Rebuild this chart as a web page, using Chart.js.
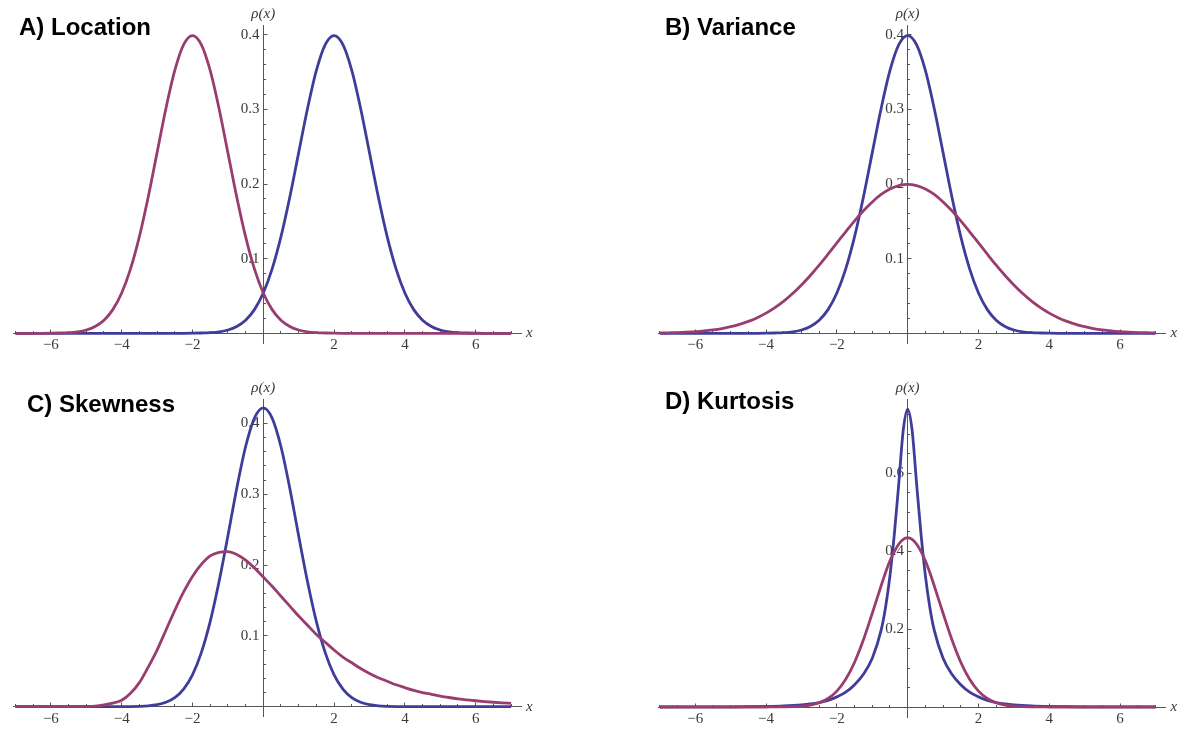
<!DOCTYPE html>
<html>
<head>
<meta charset="utf-8">
<title>Location, variance, skewness, kurtosis</title>
<script src="https://cdn.jsdelivr.net/npm/chart.js@4.4.1/dist/chart.umd.min.js"></script>
<style>
    html, body { margin: 0; padding: 0; background: #fff; }
    #wrap { position: relative; width: 1187px; height: 729px; overflow: hidden; }
    #wrap canvas { position: absolute; }
</style>
</head>
<body>
<div id="wrap">
    <canvas id="panelA" width="593" height="360" style="left:0;top:0"></canvas>
    <canvas id="panelB" width="594" height="360" style="left:593px;top:0"></canvas>
    <canvas id="panelC" width="593" height="369" style="left:0;top:360px"></canvas>
    <canvas id="panelD" width="594" height="369" style="left:593px;top:360px"></canvas>
</div>
<script>
// x grid used by panels A, B, C
var xs = [-7, -6.75, -6.5, -6.25, -6, -5.75, -5.5, -5.25, -5, -4.75, -4.5, -4.25, -4, -3.75,
          -3.5, -3.25, -3, -2.75, -2.5, -2.25, -2, -1.75, -1.5, -1.25, -1, -0.75, -0.5, -0.25, 0,
          0.25, 0.5, 0.75, 1, 1.25, 1.5, 1.75, 2, 2.25, 2.5, 2.75, 3, 3.25, 3.5,
          3.75, 4, 4.25, 4.5, 4.75, 5, 5.25, 5.5, 5.75, 6, 6.25, 6.5, 6.75, 7];

// A) Location
var locRed  = [0, 0, 0, 0, 0.0001, 0.0004, 0.0009, 0.002, 0.0044, 0.0091, 0.0175, 0.0317, 0.054, 0.0863,
               0.1295, 0.1826, 0.242, 0.3011, 0.3521, 0.3867, 0.3989, 0.3867, 0.3521, 0.3011, 0.242, 0.1826, 0.1295, 0.0863, 0.054,
               0.0317, 0.0175, 0.0091, 0.0044, 0.002, 0.0009, 0.0004, 0.0001, 0, 0, 0, 0, 0, 0,
               0, 0, 0, 0, 0, 0, 0, 0, 0, 0, 0, 0, 0, 0];
var locBlue = [0, 0, 0, 0, 0, 0, 0, 0, 0, 0, 0, 0, 0, 0,
               0, 0, 0, 0, 0, 0, 0.0001, 0.0004, 0.0009, 0.002, 0.0044, 0.0091, 0.0175, 0.0317, 0.054,
               0.0863, 0.1295, 0.1826, 0.242, 0.3011, 0.3521, 0.3867, 0.3989, 0.3867, 0.3521, 0.3011, 0.242, 0.1826, 0.1295,
               0.0863, 0.054, 0.0317, 0.0175, 0.0091, 0.0044, 0.002, 0.0009, 0.0004, 0.0001, 0, 0, 0, 0];

// B) Variance
var varRed  = [0.0004, 0.0007, 0.001, 0.0015, 0.0022, 0.0032, 0.0046, 0.0064, 0.0088, 0.0119, 0.0159, 0.0209, 0.027, 0.0344,
               0.0431, 0.0533, 0.0648, 0.0775, 0.0913, 0.106, 0.121, 0.136, 0.1506, 0.1641, 0.176, 0.186, 0.1933, 0.1979, 0.1995,
               0.1979, 0.1933, 0.186, 0.176, 0.1641, 0.1506, 0.136, 0.121, 0.106, 0.0913, 0.0775, 0.0648, 0.0533, 0.0431,
               0.0344, 0.027, 0.0209, 0.0159, 0.0119, 0.0088, 0.0064, 0.0046, 0.0032, 0.0022, 0.0015, 0.001, 0.0007, 0.0004];
var varBlue = [0, 0, 0, 0, 0, 0, 0, 0, 0, 0, 0, 0, 0.0001, 0.0004,
               0.0009, 0.002, 0.0044, 0.0091, 0.0175, 0.0317, 0.054, 0.0863, 0.1295, 0.1826, 0.242, 0.3011, 0.3521, 0.3867, 0.3989,
               0.3867, 0.3521, 0.3011, 0.242, 0.1826, 0.1295, 0.0863, 0.054, 0.0317, 0.0175, 0.0091, 0.0044, 0.002, 0.0009,
               0.0004, 0.0001, 0, 0, 0, 0, 0, 0, 0, 0, 0, 0, 0, 0];

// C) Skewness
var skewRed  = [0, 0, 0, 0, 0, 0, 0, 0.0001, 0.0003, 0.0008, 0.0025, 0.005, 0.009, 0.019,
                0.034, 0.056, 0.08, 0.108, 0.136, 0.162, 0.184, 0.201, 0.213, 0.218, 0.219, 0.215, 0.207, 0.196, 0.183,
                0.17, 0.156, 0.142, 0.128, 0.115, 0.102, 0.091, 0.08, 0.07, 0.062, 0.054, 0.047, 0.041, 0.036,
                0.031, 0.027, 0.023, 0.02, 0.0175, 0.015, 0.013, 0.011, 0.0097, 0.0084, 0.0073, 0.0063, 0.0054, 0.0047];
var skewBlue = [0, 0, 0, 0, 0, 0, 0, 0, 0, 0, 0, 0, 0.0001, 0.0002,
                0.0005, 0.0012, 0.0028, 0.0062, 0.0128, 0.0249, 0.045, 0.0763, 0.12, 0.1763, 0.241, 0.3082, 0.367, 0.4075, 0.422,
                0.4075, 0.367, 0.3082, 0.241, 0.1763, 0.12, 0.0763, 0.045, 0.0249, 0.0128, 0.0062, 0.0028, 0.0012, 0.0005,
                0.0002, 0.0001, 0, 0, 0, 0, 0, 0, 0, 0, 0, 0, 0, 0];

// D) Kurtosis (finer grid around the peak)
var kurtXs   = [-7, -6, -5, -4.5, -4, -3.5, -3, -2.75, -2.5, -2.25, -2, -1.75, -1.5, -1.25, -1, -0.75, -0.625, -0.5, -0.375, -0.25, -0.125, 0,
                0.125, 0.25, 0.375, 0.5, 0.625, 0.75, 1, 1.25, 1.5, 1.75, 2, 2.25, 2.5, 2.75, 3, 3.5, 4, 4.5, 5, 6, 7];
var kurtRed  = [0, 0, 0, 0, 0.0001, 0.0003, 0.0021, 0.005, 0.0108, 0.0218, 0.0408, 0.0711, 0.1149, 0.1724, 0.2405, 0.311, 0.345, 0.375, 0.399, 0.418, 0.43, 0.434,
                0.43, 0.418, 0.399, 0.375, 0.345, 0.311, 0.2405, 0.1724, 0.1149, 0.0711, 0.0408, 0.0218, 0.0108, 0.005, 0.0021, 0.0003, 0.0001, 0, 0, 0, 0];
var kurtBlue = [0.0001, 0.0002, 0.0005, 0.0008, 0.0014, 0.0027, 0.0054, 0.0078, 0.0115, 0.017, 0.026, 0.038, 0.057, 0.084, 0.125, 0.197, 0.256, 0.337, 0.445, 0.575, 0.71, 0.764,
                0.71, 0.575, 0.445, 0.337, 0.256, 0.197, 0.125, 0.084, 0.057, 0.038, 0.026, 0.017, 0.0115, 0.0078, 0.0054, 0.0027, 0.0014, 0.0008, 0.0005, 0.0002, 0.0001];

// tick labels
var xTicks = [-6, -4, -2, 2, 4, 6];
var yTicks = [0.1, 0.2, 0.3, 0.4];
var yTicksKurt = [0.2, 0.4, 0.6];

var BLUE = '#3f3d99', RED = '#993d70', AXIS = '#555555', LABEL = '#3a3a3a';
var SERIF = '"Liberation Serif", "DejaVu Serif", serif';
var SANS = '"Liberation Sans", Arial, sans-serif';

function pts(xv, yv) {
    return xv.map(function (x, i) { return { x: x, y: yv[i] }; });
}
function xLabel(v) { return v < 0 ? '\u2212' + (-v) : String(v); }
function half(p) { return Math.round(p - 0.5) + 0.5; }

// Mathematica-like inward ticks plus the axis / panel texts
var decor = {
    id: 'decor',
    beforeDatasetsDraw: function (chart, args, o) {
        var ctx = chart.ctx, sx = chart.scales.x, sy = chart.scales.y;
        var ax = half(sx.getPixelForValue(0)), ay = half(sy.getPixelForValue(0));
        var k, v, p, len;
        ctx.save();
        ctx.strokeStyle = AXIS;
        ctx.lineWidth = 1;
        ctx.beginPath();
        for (k = Math.ceil(sx.min / o.xMinor); k * o.xMinor <= sx.max; k++) {
            if (k === 0) continue;
            v = k * o.xMinor;
            len = Math.abs(v / o.xMajor - Math.round(v / o.xMajor)) < 1e-6 ? 4 : 2.5;
            p = half(sx.getPixelForValue(v));
            ctx.moveTo(p, ay); ctx.lineTo(p, ay - len);
        }
        for (k = 1; k * o.yMinor <= sy.max + 1e-9; k++) {
            v = k * o.yMinor;
            len = Math.abs(v / o.yMajor - Math.round(v / o.yMajor)) < 1e-6 ? 4 : 2.5;
            p = half(sy.getPixelForValue(v));
            ctx.moveTo(ax, p); ctx.lineTo(ax + len, p);
        }
        ctx.stroke();
        ctx.restore();
    },
    afterDraw: function (chart, args, o) {
        var ctx = chart.ctx, area = chart.chartArea;
        var ax = chart.scales.x.getPixelForValue(0), ay = chart.scales.y.getPixelForValue(0);
        ctx.save();
        ctx.fillStyle = LABEL;
        ctx.textBaseline = 'middle';
        ctx.font = 'italic 15px ' + SERIF;
        ctx.textAlign = 'center';
        ctx.fillText('\u03C1(x)', ax, area.top - 11);
        ctx.textAlign = 'left';
        ctx.fillText('x', area.right + 5, ay);
        ctx.fillStyle = '#000';
        ctx.font = 'bold 24px ' + SANS;
        ctx.fillText(o.title, o.titleX, o.titleY);
        ctx.restore();
    }
};

// page-pixel chart areas: [left, top, right, bottom]
var panels = [
    { id: 'panelA', left: 0, top: 0, area: [13.7, 25, 521, 343.3], yMin: -0.0134, yMax: 0.413,
      xv: xs, red: locRed, blue: locBlue, yt: yTicks, yMinor: 0.02, yMajor: 0.1,
      title: 'A) Location', titleX: 19, titleY: 28 },
    { id: 'panelB', left: 593, top: 0, area: [658.1, 25, 1165.4, 343.3], yMin: -0.0134, yMax: 0.413,
      xv: xs, red: varRed, blue: varBlue, yt: yTicks, yMinor: 0.02, yMajor: 0.1,
      title: 'B) Variance', titleX: 72, titleY: 28 },
    { id: 'panelC', left: 0, top: 360, area: [13.7, 399.3, 521, 716.7], yMin: -0.0141, yMax: 0.434,
      xv: xs, red: skewRed, blue: skewBlue, yt: yTicks, yMinor: 0.02, yMajor: 0.1,
      title: 'C) Skewness', titleX: 27, titleY: 45 },
    { id: 'panelD', left: 593, top: 360, area: [658.1, 399.3, 1165.4, 717], yMin: -0.0256, yMax: 0.789,
      xv: kurtXs, red: kurtRed, blue: kurtBlue, yt: yTicksKurt, yMinor: 0.05, yMajor: 0.2,
      title: 'D) Kurtosis', titleX: 72, titleY: 42 }
];

panels.forEach(function (pn) {
    var canvas = document.getElementById(pn.id);
    var line = { borderWidth: 2.8, pointRadius: 0, fill: false, cubicInterpolationMode: 'monotone' };
    new Chart(canvas, {
        type: 'line',
        data: {
            datasets: [
                Object.assign({ data: pts(pn.xv, pn.red), borderColor: RED }, line),
                Object.assign({ data: pts(pn.xv, pn.blue), borderColor: BLUE }, line)
            ]
        },
        options: {
            responsive: false,
            animation: false,
            devicePixelRatio: 1,
            layout: {
                padding: {
                    left: pn.area[0] - pn.left,
                    top: pn.area[1] - pn.top,
                    right: pn.left + canvas.width - pn.area[2],
                    bottom: pn.top + canvas.height - pn.area[3]
                }
            },
            plugins: {
                legend: { display: false },
                tooltip: { enabled: false },
                decor: { title: pn.title, titleX: pn.titleX, titleY: pn.titleY,
                         xMinor: 0.5, xMajor: 2, yMinor: pn.yMinor, yMajor: pn.yMajor }
            },
            scales: {
                x: {
                    type: 'linear',
                    min: -7.05, max: 7.28,
                    position: { y: 0 },
                    grid: { display: false, drawTicks: false },
                    border: { display: true, color: AXIS, width: 1 },
                    afterBuildTicks: function (s) { s.ticks = xTicks.map(function (v) { return { value: v }; }); },
                    ticks: { autoSkip: false, maxRotation: 0, padding: 3, color: LABEL,
                             font: { family: SERIF, size: 15 }, callback: xLabel }
                },
                y: {
                    type: 'linear',
                    min: pn.yMin, max: pn.yMax,
                    position: { x: 0 },
                    grid: { display: false, drawTicks: false },
                    border: { display: true, color: AXIS, width: 1 },
                    afterBuildTicks: function (s) { s.ticks = pn.yt.map(function (v) { return { value: v }; }); },
                    ticks: { autoSkip: false, color: LABEL, font: { family: SERIF, size: 15 },
                             callback: function (v) { return String(v) + ' '; } }
                }
            }
        },
        plugins: [decor]
    });
});
</script>
</body>
</html>
